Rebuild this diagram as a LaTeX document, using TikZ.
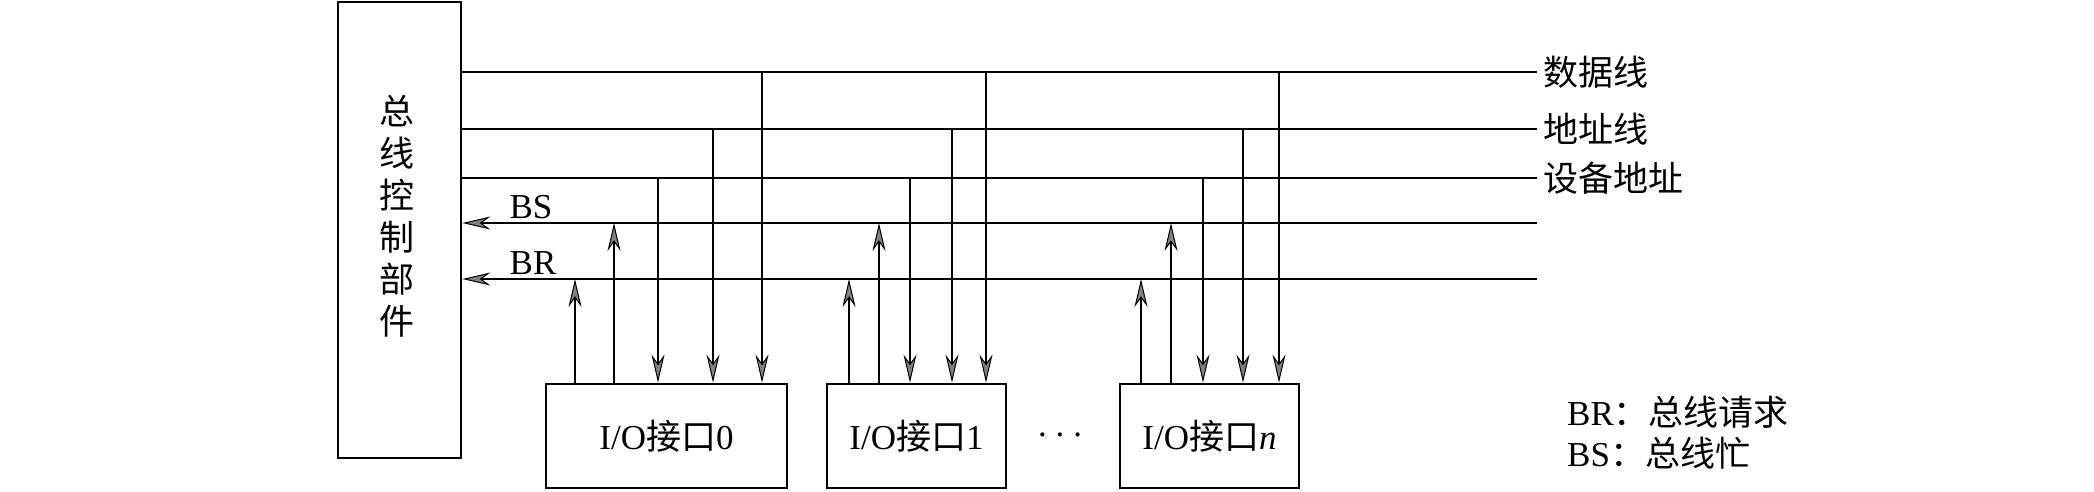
\documentclass[tikz,border=0pt]{standalone}
\usepackage{fontspec}
\setmainfont{Liberation Serif}
\newfontfamily\cjk{Noto Sans CJK SC}
\usetikzlibrary{arrows.meta}
\begin{document}
\begin{tikzpicture}[x=1pt,y=-1pt,
  every node/.style={font=\fontsize{35}{42}\selectfont},
  wire/.style={line width=2.8pt},
  arr/.style={wire,-{Stealth[length=28pt,width=13pt,inset=9pt,fill=black!50,line width=1pt]}},
  box/.style={draw,line width=2.8pt,inner sep=0pt},
  lbl/.style={inner sep=0pt}]
\useasboundingbox (0,0) rectangle (2094,492);

% controller
\node[box,minimum width=123pt,minimum height=456pt] (ctrl) at (399.5,230) {};
\node[lbl,align=center,font=\fontsize{35}{42}\selectfont\cjk] (ctrltext) at (397,216) {总\\ 线\\ 控\\ 制\\ 部\\ 件};

% bus line ends
\coordinate (dR) at (1537,72);
\coordinate (aR) at (1537,129);
\coordinate (eR) at (1537,178);
\coordinate (sR) at (1537,223);
\coordinate (rR) at (1537,279);

\draw[wire] (ctrl.east |- dR) -- (dR);
\draw[wire] (ctrl.east |- aR) -- (aR);
\draw[wire] (ctrl.east |- eR) -- (eR);
\draw[arr] (sR) -- (ctrl.east |- sR);
\draw[arr] (rR) -- (ctrl.east |- rR);

\node[lbl,anchor=west] (dlbl) at ([xshift=6pt]dR) {\cjk 数据线};
\node[lbl,anchor=west] (albl) at ([xshift=6pt]aR) {\cjk 地址线};
\node[lbl,anchor=west] (elbl) at ([xshift=6pt]eR) {\cjk 设备地址};
\node[lbl] (bslbl) at (531,207) {BS};
\node[lbl] (brlbl) at (533,263) {BR};

% I/O interfaces
\node[box,minimum width=241pt,minimum height=104pt] (io0) at (666.5,436) {I/O{\cjk 接口}0};
\node[box,minimum width=179pt,minimum height=104pt] (io1) at (916.5,436) {I/O{\cjk 接口}1};
\node[box,minimum width=179pt,minimum height=104pt] (ion) at (1209.5,436) {I/O{\cjk 接口}\textit{n}};
\node[lbl] (dots) at (1060,440) {·\hspace{6pt}·\hspace{6pt}·};

\foreach \b/\r/\s/\e/\a/\d in {io0/575/614/658/713/762, io1/849/879/910/952/986, ion/1141/1171/1203/1243/1279} {
  \coordinate (\b-r) at (\r,0);
  \coordinate (\b-s) at (\s,0);
  \coordinate (\b-e) at (\e,0);
  \coordinate (\b-a) at (\a,0);
  \coordinate (\b-d) at (\d,0);
  \draw[arr] (\b-r |- \b.north) -- (\b-r |- rR);
  \draw[arr] (\b-s |- \b.north) -- (\b-s |- sR);
  \draw[arr] (\b-e |- eR) -- (\b-e |- \b.north);
  \draw[arr] (\b-a |- aR) -- (\b-a |- \b.north);
  \draw[arr] (\b-d |- dR) -- (\b-d |- \b.north);
}

% legend
\node[lbl,anchor=west] (lg1) at (1567,412) {BR{\cjk ：总线请求}};
\node[lbl,anchor=west] (lg2) at (1567,453) {BS{\cjk ：总线忙}};
\end{tikzpicture}
\end{document}
